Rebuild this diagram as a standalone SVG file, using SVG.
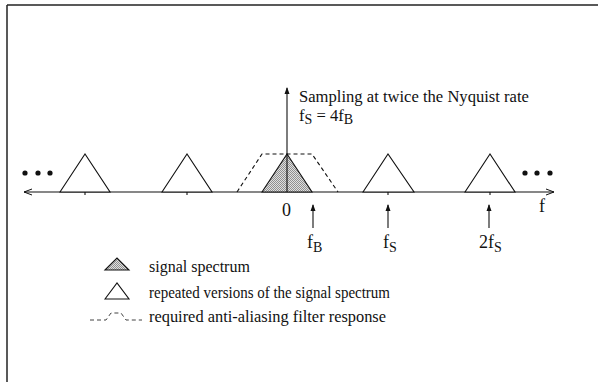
<svg xmlns="http://www.w3.org/2000/svg" width="598" height="382" viewBox="0 0 598 382">
<style>
text{font-family:"Liberation Serif","Times New Roman",serif;font-size:16px;fill:#111}
.ttl{font-size:16.6px}
.ax{font-size:18px}
.ln{stroke:#111;stroke-width:1.1;fill:none}
.tri{stroke:#111;stroke-width:1.1;fill:#fff}
.sig{stroke:#111;stroke-width:1.1;fill:url(#hatch)}
.dash{stroke:#111;stroke-width:1.1;fill:none;stroke-dasharray:4,3}
.sub{font-size:14px}
</style>
<defs>
<pattern id="hatch" width="2" height="2" patternUnits="userSpaceOnUse">
<rect width="2" height="2" fill="#e0e0e0"/>
<rect width="1" height="1" fill="#909090"/>
<rect x="1" y="1" width="1" height="1" fill="#909090"/>
</pattern>
<marker id="open" markerWidth="10" markerHeight="8" refX="9" refY="4" orient="auto" markerUnits="userSpaceOnUse">
<path d="M1,1 L9,4 L1,7" fill="none" stroke="#111" stroke-width="1"/>
</marker>
<marker id="up" markerWidth="8" markerHeight="10" refX="4" refY="1" orient="0" markerUnits="userSpaceOnUse">
<path d="M1.5,7 L4,0 L6.5,7 Z" fill="#111"/>
</marker>
</defs>
<g id="frame">
<line x1="7" y1="5" x2="598" y2="5" stroke="#222" stroke-width="1.5"/>
<line x1="7" y1="5" x2="7" y2="382" stroke="#222" stroke-width="1.5"/>
</g>
<g id="connectors">
<line class="ln" x1="288" y1="192" x2="24" y2="192" marker-end="url(#open)"/>
<line class="ln" x1="288" y1="192" x2="554" y2="192" marker-end="url(#open)"/>
<line class="ln" x1="287" y1="192" x2="287" y2="88" marker-end="url(#up)"/>
<line class="ln" x1="85" y1="189" x2="85" y2="195"/>
<line class="ln" x1="187" y1="189" x2="187" y2="195"/>
<line class="ln" x1="388" y1="189" x2="388" y2="195"/>
<line class="ln" x1="490" y1="189" x2="490" y2="195"/>
<line class="ln" x1="313" y1="228" x2="313" y2="205" marker-end="url(#up)"/>
<line class="ln" x1="388" y1="228" x2="388" y2="205" marker-end="url(#up)"/>
<line class="ln" x1="489" y1="228" x2="489" y2="205" marker-end="url(#up)"/>
</g>
<g id="filter">
<polyline class="dash" points="237,192 262,154 312,154 338,192"/>
</g>
<g id="rep-m2"><polygon class="tri" points="60,192 85,154 110,192"/></g>
<g id="rep-m1"><polygon class="tri" points="162,192 187,154 212,192"/></g>
<g id="signal"><polygon class="sig" points="262,192 287,154 312,192"/><line class="ln" x1="287" y1="154" x2="287" y2="192"/></g>
<g id="rep-p1"><polygon class="tri" points="363,192 388,154 414,192"/></g>
<g id="rep-p2"><polygon class="tri" points="465,192 490,154 515,192"/></g>
<g id="dots-left"><circle cx="25" cy="173" r="2.6" fill="#111"/><circle cx="38" cy="173" r="2.6" fill="#111"/><circle cx="50" cy="173" r="2.6" fill="#111"/></g>
<g id="dots-right"><circle cx="525" cy="173" r="2.6" fill="#111"/><circle cx="537" cy="173" r="2.6" fill="#111"/><circle cx="550" cy="173" r="2.6" fill="#111"/></g>
<g id="title">
<text class="ttl" x="299" y="102">Sampling at twice the Nyquist rate</text>
<text class="ttl" x="299" y="121">f<tspan class="sub" dy="3">S</tspan><tspan dy="-3"> = 4f</tspan><tspan class="sub" dy="3">B</tspan></text>
</g>
<g id="labels">
<text class="ax" x="282" y="216">0</text>
<text class="ax" x="539" y="212">f</text>
<text class="ax" x="307" y="248">f<tspan class="sub" dy="4">B</tspan></text>
<text class="ax" x="383" y="248">f<tspan class="sub" dy="4">S</tspan></text>
<text class="ax" x="479" y="248">2f<tspan class="sub" dy="4">S</tspan></text>
</g>
<g id="legend">
<polygon class="sig" points="105,270 117,258 129,270"/>
<text x="149" y="272">signal spectrum</text>
<polygon class="tri" points="105,299 117,283 129,299"/>
<text x="149" y="298" textLength="241" lengthAdjust="spacingAndGlyphs">repeated versions of the signal spectrum</text>
<polyline points="90,320 106,320 111,313 121,313 126,320 142,320" fill="none" stroke="#111" stroke-width="0.8" stroke-dasharray="4,3"/>
<text x="149" y="322" textLength="237" lengthAdjust="spacingAndGlyphs">required anti-aliasing filter response</text>
</g>
</svg>
